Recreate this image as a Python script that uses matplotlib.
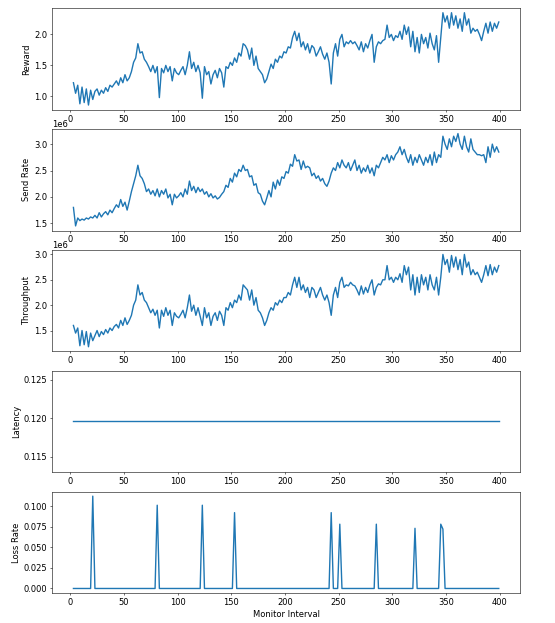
import numpy as np
import matplotlib
matplotlib.use("Agg")
import matplotlib.pyplot as plt
from matplotlib.ticker import MultipleLocator

# monitor intervals, every second one
interval = np.arange(3, 400, 2)

reward = [
    1.22, 1.05, 1.18, 0.88, 1.15, 0.90, 1.12, 0.86, 1.10, 0.95,
    1.08, 1.12, 1.02, 1.10, 1.05, 1.14, 1.08, 1.18, 1.15, 1.20,
    1.25, 1.18, 1.30, 1.22, 1.35, 1.25, 1.30, 1.40, 1.55, 1.62,
    1.85, 1.70, 1.72, 1.60, 1.55, 1.48, 1.40, 1.50, 1.38, 1.48,
    0.98, 1.45, 1.38, 1.50, 1.40, 1.48, 1.25, 1.45, 1.38, 1.35,
    1.42, 1.48, 1.35, 1.50, 1.72, 1.45, 1.55, 1.40, 1.50, 1.38,
    0.97, 1.48, 1.35, 1.40, 1.20, 1.35, 1.42, 1.30, 1.45, 1.38,
    1.15, 1.48, 1.45, 1.55, 1.50, 1.62, 1.55, 1.70, 1.65, 1.85,
    1.82, 1.75, 1.60, 1.78, 1.50, 1.65, 1.45, 1.40, 1.35, 1.22,
    1.28, 1.40, 1.52, 1.45, 1.60, 1.55, 1.65, 1.62, 1.72, 1.70,
    1.80, 1.78, 1.95, 2.05, 1.90, 2.02, 1.80, 1.88, 1.75, 1.85,
    1.70, 1.82, 1.78, 1.65, 1.72, 1.80, 1.68, 1.60, 1.70, 1.55,
    1.20, 1.70, 1.85, 1.65, 1.92, 2.00, 1.80, 1.88, 1.85, 1.90,
    1.85, 1.88, 1.82, 1.75, 1.88, 1.72, 1.85, 1.78, 1.90, 2.00,
    1.55, 1.80, 1.88, 1.85, 1.90, 1.92, 2.15, 1.95, 2.00, 1.90,
    1.98, 1.95, 2.05, 1.92, 2.15, 2.00, 2.12, 1.80, 2.05, 1.72,
    1.95, 1.70, 2.00, 1.85, 1.95, 1.78, 2.02, 1.85, 1.75, 1.98,
    1.55, 1.95, 2.35, 2.20, 2.30, 2.10, 2.35, 2.15, 2.30, 2.10,
    2.25, 2.05, 2.35, 2.15, 2.25, 2.02, 2.10, 2.05, 2.08, 2.00,
    1.90, 2.05, 2.18, 2.02, 2.20, 2.05, 2.18, 2.10, 2.20,
]

# send rate and throughput in millions
send_rate = [
    1.80, 1.45, 1.60, 1.55, 1.58, 1.56, 1.60, 1.58, 1.62, 1.60,
    1.65, 1.60, 1.70, 1.62, 1.68, 1.72, 1.66, 1.75, 1.70, 1.78,
    1.85, 1.80, 1.95, 1.82, 1.90, 1.75, 1.92, 2.10, 2.25, 2.40,
    2.60, 2.40, 2.35, 2.25, 2.10, 2.15, 2.05, 2.12, 2.02, 2.15,
    2.00, 2.12, 2.05, 2.15, 1.98, 2.05, 1.85, 2.05, 1.98, 2.02,
    2.08, 2.00, 2.15, 2.05, 2.30, 2.12, 2.20, 2.08, 2.18, 2.10,
    2.15, 2.05, 2.10, 2.00, 2.06, 1.98, 2.02, 1.96, 1.99, 2.05,
    2.10, 2.22, 2.18, 2.35, 2.28, 2.45, 2.38, 2.52, 2.48, 2.60,
    2.50, 2.52, 2.38, 2.40, 2.22, 2.25, 2.08, 2.05, 1.92, 1.85,
    1.98, 2.12, 2.00, 2.28, 2.15, 2.32, 2.22, 2.38, 2.35, 2.48,
    2.45, 2.62, 2.58, 2.80, 2.68, 2.70, 2.52, 2.68, 2.55, 2.58,
    2.55, 2.40, 2.45, 2.35, 2.40, 2.30, 2.35, 2.25, 2.20, 2.30,
    2.45, 2.55, 2.50, 2.65, 2.55, 2.70, 2.60, 2.55, 2.65, 2.50,
    2.60, 2.70, 2.50, 2.60, 2.45, 2.55, 2.48, 2.60, 2.45, 2.55,
    2.40, 2.60, 2.55, 2.65, 2.75, 2.70, 2.80, 2.65, 2.78, 2.70,
    2.80, 2.85, 2.95, 2.80, 2.90, 2.75, 2.65, 2.80, 2.60, 2.75,
    2.65, 2.80, 2.70, 2.60, 2.75, 2.65, 2.80, 2.60, 2.85, 2.65,
    2.80, 2.75, 3.15, 3.00, 2.90, 3.10, 2.95, 3.15, 3.05, 3.20,
    3.00, 2.90, 3.15, 2.95, 2.85, 3.10, 2.90, 2.85, 2.80, 2.80,
    2.78, 2.80, 2.65, 2.95, 2.75, 3.00, 2.85, 2.95, 2.85,
]

throughput = [
    1.60, 1.45, 1.55, 1.20, 1.50, 1.22, 1.48, 1.18, 1.45, 1.30,
    1.40, 1.50, 1.38, 1.48, 1.42, 1.52, 1.45, 1.55, 1.50, 1.58,
    1.62, 1.55, 1.70, 1.60, 1.75, 1.62, 1.70, 1.80, 2.00, 2.10,
    2.40, 2.20, 2.25, 2.10, 2.05, 1.95, 1.85, 1.92, 1.80, 1.90,
    1.55, 1.90, 1.78, 1.95, 1.80, 1.90, 1.60, 1.85, 1.78, 1.75,
    1.82, 1.90, 1.75, 1.95, 2.20, 1.88, 2.00, 1.80, 1.95, 1.78,
    1.60, 1.95, 1.75, 1.85, 1.60, 1.78, 1.85, 1.70, 1.88, 1.80,
    1.60, 1.95, 1.90, 2.05, 1.95, 2.10, 2.05, 2.20, 2.10, 2.40,
    2.35, 2.30, 2.10, 2.30, 2.00, 2.15, 1.90, 1.85, 1.75, 1.60,
    1.70, 1.85, 1.95, 1.90, 2.05, 2.00, 2.10, 2.05, 2.15, 2.15,
    2.25, 2.20, 2.40, 2.55, 2.35, 2.55, 2.30, 2.40, 2.25, 2.35,
    2.15, 2.35, 2.30, 2.15, 2.25, 2.35, 2.20, 2.10, 2.20, 2.05,
    1.80, 2.20, 2.35, 2.15, 2.45, 2.55, 2.35, 2.40, 2.38, 2.45,
    2.40, 2.38, 2.30, 2.20, 2.38, 2.22, 2.35, 2.25, 2.40, 2.50,
    2.20, 2.35, 2.42, 2.40, 2.50, 2.50, 2.78, 2.50, 2.55, 2.45,
    2.55, 2.50, 2.62, 2.45, 2.78, 2.60, 2.75, 2.30, 2.60, 2.20,
    2.55, 2.25, 2.60, 2.40, 2.55, 2.30, 2.60, 2.40, 2.30, 2.55,
    2.20, 2.55, 3.00, 2.80, 2.90, 2.65, 2.98, 2.75, 2.95, 2.70,
    2.90, 2.60, 3.00, 2.75, 2.85, 2.60, 2.70, 2.60, 2.65, 2.55,
    2.45, 2.60, 2.78, 2.58, 2.80, 2.60, 2.75, 2.65, 2.78,
]

latency_value = 0.1196

# loss is zero except a few single-interval spikes
loss_x = [21, 81, 123, 153, 243, 251, 285, 321, 345, 347]
loss_peak = [0.112, 0.101, 0.101, 0.092, 0.092, 0.078, 0.078, 0.073, 0.078, 0.072]

latency = [latency_value] * len(interval)
loss = np.zeros(len(interval))
for lx, lp in zip(loss_x, loss_peak):
    loss[interval == lx] = lp

plt.rcParams["font.size"] = 12
plt.rcParams["lines.linewidth"] = 2.0

fig, axes = plt.subplots(5, 1, figsize=(11.1, 12.46), dpi=50)
fig.subplots_adjust(left=0.094, right=0.937, top=0.987, bottom=0.048, hspace=0.19)

axes[0].plot(interval, reward)
axes[0].set_ylabel("Reward")
axes[1].plot(interval, np.array(send_rate) * 1e6)
axes[1].set_ylabel("Send Rate")
axes[2].plot(interval, np.array(throughput) * 1e6)
axes[2].set_ylabel("Throughput")
axes[3].plot(interval, latency)
axes[3].set_ylabel("Latency")
axes[3].yaxis.set_major_locator(MultipleLocator(0.005))
axes[4].plot(interval, loss)
axes[4].set_ylabel("Loss Rate")
axes[4].set_xlabel("Monitor Interval")

plt.savefig("out.png", dpi=50)
